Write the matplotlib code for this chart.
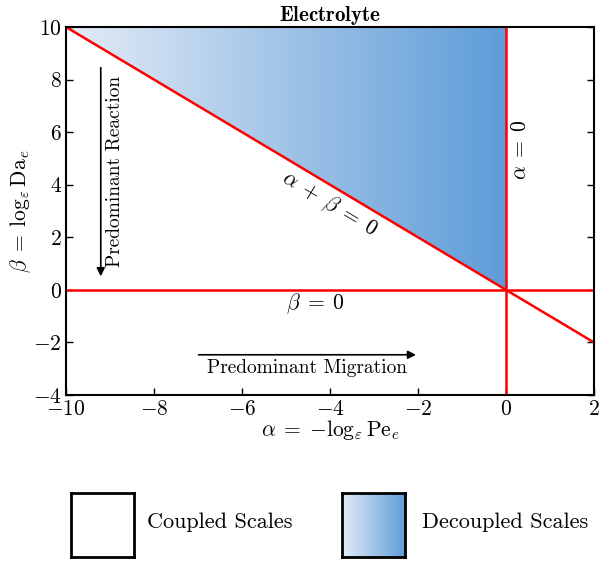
import matplotlib
matplotlib.use("Agg")
import matplotlib.pyplot as plt
import numpy as np
from matplotlib.colors import LinearSegmentedColormap
from matplotlib.patches import Polygon

plt.rcParams["mathtext.fontset"] = "cm"
plt.rcParams["font.family"] = "cmr10"
plt.rcParams["axes.formatter.use_mathtext"] = True

# axis ranges and ticks
alpha_lim = [-10, 2]
beta_lim = [-4, 10]
x_ticks = [-10, -8, -6, -4, -2, 0, 2]
y_ticks = [-4, -2, 0, 2, 4, 6, 8, 10]

# regime boundaries
diag_alpha = [-10, 2]
diag_beta = [10, -2]
tri_alpha = [-10, 0, 0]
tri_beta = [10, 10, 0]

legend_labels = ["Coupled Scales", "Decoupled Scales"]

cmap = LinearSegmentedColormap.from_list("dec", ["#e4ecf7", "#5e9cd8"])
grad = np.linspace(0, 1, 256).reshape(1, -1)

fig = plt.figure(figsize=(6.13, 5.62), dpi=100)
ax = fig.add_axes([66 / 613, 1 - 395 / 562, 528 / 613, 368 / 562])

im = ax.imshow(grad, extent=[tri_alpha[0], tri_alpha[1], tri_beta[2], tri_beta[0]],
               cmap=cmap, aspect="auto", origin="lower", zorder=1)
tri = Polygon(np.column_stack([tri_alpha, tri_beta]), closed=True,
              facecolor="none", edgecolor="none", transform=ax.transData)
ax.add_patch(tri)
im.set_clip_path(tri)

ax.plot(diag_alpha, diag_beta, color="red", lw=1.8, zorder=3)
ax.axhline(0, color="red", lw=1.8, zorder=3)
ax.axvline(0, color="red", lw=1.8, zorder=3)

ax.set_xlim(alpha_lim)
ax.set_ylim(beta_lim)
ax.set_xticks(x_ticks)
ax.set_yticks(y_ticks)
ax.tick_params(direction="in", right=True, top=False, length=5, width=1,
               labelsize=15.5, pad=3)
for s in ax.spines.values():
    s.set_linewidth(1.5)
    s.set_zorder(5)

ax.set_title(r"$\mathbf{Electrolyte}$", fontsize=15, pad=3)
ax.set_xlabel(r"$\alpha\;=\;{-}\log_\varepsilon \mathrm{Pe}_e$", fontsize=15.5, labelpad=0)
ax.set_ylabel(r"$\beta\;=\;\log_\varepsilon \mathrm{Da}_e$", fontsize=15.5, labelpad=0)

# annotations
ax.annotate("", xy=(-9.21, 0.41), xytext=(-9.21, 8.56),
            arrowprops=dict(arrowstyle="-|>", color="k", lw=1.2, mutation_scale=12))
ax.text(-8.886, 4.52, "Predominant Reaction", rotation=90, ha="center",
        va="center", fontsize=14)
ax.annotate("", xy=(-1.98, -2.47), xytext=(-7.05, -2.47),
            arrowprops=dict(arrowstyle="-|>", color="k", lw=1.2, mutation_scale=12))
ax.text(-4.53, -2.97, "Predominant Migration", ha="center", va="center",
        fontsize=14)

ax.text(-4.02, 3.27, r"$\alpha\;+\;\beta\;=\;0$", rotation=-30.9, rotation_mode="anchor",
        ha="center", va="center", fontsize=15.5)
ax.text(-4.34, -0.51, r"$\beta\;=\;0$", ha="center", va="center", fontsize=15.5)
ax.text(0.32, 5.34, r"$\alpha\;=\;0$", rotation=90, ha="center", va="center",
        fontsize=15.5)

# legend boxes
box_w, box_h = 63.3 / 613, 64 / 562
for i, (x0, label, tx) in enumerate(zip([70.7, 341.7], legend_labels, [147, 422])):
    bax = fig.add_axes([x0 / 613, 1 - 556.7 / 562, box_w, box_h])
    bax.set_xticks([])
    bax.set_yticks([])
    for s in bax.spines.values():
        s.set_linewidth(2)
    if i == 1:
        bax.imshow(grad, cmap=cmap, aspect="auto", extent=[0, 1, 0, 1])
    fig.text(tx / 613, 1 - 522 / 562, label, ha="left", va="center", fontsize=16)

fig.savefig("out.png", dpi=100)
